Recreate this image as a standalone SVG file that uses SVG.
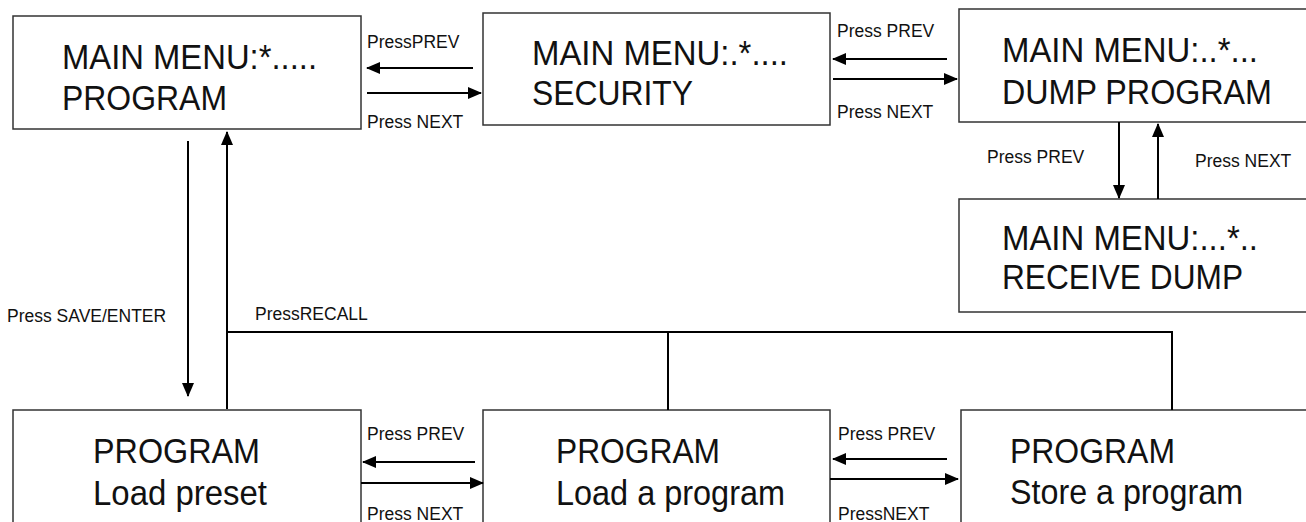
<svg xmlns="http://www.w3.org/2000/svg" width="1306" height="522" viewBox="0 0 1306 522">
  <style>
    .box { fill: #ffffff; stroke: #333333; stroke-width: 1.5; }
    .main { font-family: "Liberation Sans", Arial, sans-serif; font-size: 35px; fill: #111111; }
    .lbl { font-family: "Liberation Sans", Arial, sans-serif; font-size: 17.5px; fill: #111111; }
    .wire { stroke: #000000; stroke-width: 2; fill: none; }
    .arrow { stroke: #000000; stroke-width: 2; fill: none; marker-end: url(#head); }
  </style>
  <defs>
    <marker id="head" markerUnits="userSpaceOnUse" markerWidth="14" markerHeight="12" refX="13" refY="6" orient="auto">
      <path d="M0,0 L14,6 L0,12 z" fill="#000000"/>
    </marker>
  </defs>
  <rect width="1306" height="522" fill="#ffffff"/>

  <g id="menu-program">
    <rect class="box" x="13" y="16" width="348" height="113"/>
    <text class="main" x="62" y="69" textLength="255" lengthAdjust="spacingAndGlyphs">MAIN MENU:*.....</text>
    <text class="main" x="62" y="110" textLength="165" lengthAdjust="spacingAndGlyphs">PROGRAM</text>
  </g>

  <g id="menu-security">
    <rect class="box" x="483" y="13" width="347" height="112"/>
    <text class="main" x="532" y="65" textLength="256" lengthAdjust="spacingAndGlyphs">MAIN MENU:.*....</text>
    <text class="main" x="532" y="105" textLength="161" lengthAdjust="spacingAndGlyphs">SECURITY</text>
  </g>

  <g id="menu-dump">
    <rect class="box" x="959" y="9" width="360" height="113"/>
    <text class="main" x="1002" y="62" textLength="256" lengthAdjust="spacingAndGlyphs">MAIN MENU:..*...</text>
    <text class="main" x="1002" y="104" textLength="270" lengthAdjust="spacingAndGlyphs">DUMP PROGRAM</text>
  </g>

  <g id="menu-receive">
    <rect class="box" x="959" y="199" width="360" height="113"/>
    <text class="main" x="1002" y="250" textLength="256" lengthAdjust="spacingAndGlyphs">MAIN MENU:...*..</text>
    <text class="main" x="1002" y="289" textLength="241" lengthAdjust="spacingAndGlyphs">RECEIVE DUMP</text>
  </g>

  <g id="program-preset">
    <rect class="box" x="13" y="410" width="348" height="130"/>
    <text class="main" x="93" y="463" textLength="167" lengthAdjust="spacingAndGlyphs">PROGRAM</text>
    <text class="main" x="93" y="505" textLength="174" lengthAdjust="spacingAndGlyphs">Load preset</text>
  </g>

  <g id="program-load">
    <rect class="box" x="483" y="410" width="347" height="130"/>
    <text class="main" x="556" y="463" textLength="164" lengthAdjust="spacingAndGlyphs">PROGRAM</text>
    <text class="main" x="556" y="505" textLength="229" lengthAdjust="spacingAndGlyphs">Load a program</text>
  </g>

  <g id="program-store">
    <rect class="box" x="961" y="410" width="360" height="130"/>
    <text class="main" x="1010" y="463" textLength="165" lengthAdjust="spacingAndGlyphs">PROGRAM</text>
    <text class="main" x="1010" y="504" textLength="233" lengthAdjust="spacingAndGlyphs">Store a program</text>
  </g>

  <g id="connectors">
    <!-- top row: PROGRAM <-> SECURITY -->
    <line class="arrow" x1="473" y1="68" x2="367" y2="68"/>
    <line class="arrow" x1="367" y1="93" x2="481" y2="93"/>
    <text class="lbl" x="367" y="48">PressPREV</text>
    <text class="lbl" x="367" y="128">Press NEXT</text>

    <!-- top row: SECURITY <-> DUMP PROGRAM -->
    <line class="arrow" x1="947" y1="59" x2="833" y2="59"/>
    <line class="arrow" x1="833" y1="79" x2="957" y2="79"/>
    <text class="lbl" x="837" y="37">Press PREV</text>
    <text class="lbl" x="837" y="118">Press NEXT</text>

    <!-- DUMP PROGRAM <-> RECEIVE DUMP -->
    <line class="arrow" x1="1119" y1="122" x2="1119" y2="198"/>
    <line class="arrow" x1="1158" y1="199" x2="1158" y2="124"/>
    <text class="lbl" x="987" y="163">Press PREV</text>
    <text class="lbl" x="1195" y="167">Press NEXT</text>

    <!-- MAIN MENU PROGRAM <-> PROGRAM sub-menu -->
    <line class="arrow" x1="188" y1="141" x2="188" y2="396"/>
    <line class="arrow" x1="227" y1="409" x2="227" y2="132"/>
    <text class="lbl" x="7" y="322">Press SAVE/ENTER</text>
    <text class="lbl" x="255" y="320">PressRECALL</text>

    <!-- RECALL bus joining the sub-menu boxes -->
    <polyline class="wire" points="227,332 1172,332 1172,410"/>
    <line class="wire" x1="668" y1="332" x2="668" y2="410"/>

    <!-- bottom row: Load preset <-> Load a program -->
    <line class="arrow" x1="475" y1="462" x2="363" y2="462"/>
    <line class="arrow" x1="361" y1="483" x2="483" y2="483"/>
    <text class="lbl" x="367" y="440">Press PREV</text>
    <text class="lbl" x="367" y="520">Press NEXT</text>

    <!-- bottom row: Load a program <-> Store a program -->
    <line class="arrow" x1="947" y1="459" x2="833" y2="459"/>
    <line class="arrow" x1="830" y1="479" x2="958" y2="479"/>
    <text class="lbl" x="838" y="440">Press PREV</text>
    <text class="lbl" x="838" y="520">PressNEXT</text>
  </g>
</svg>
